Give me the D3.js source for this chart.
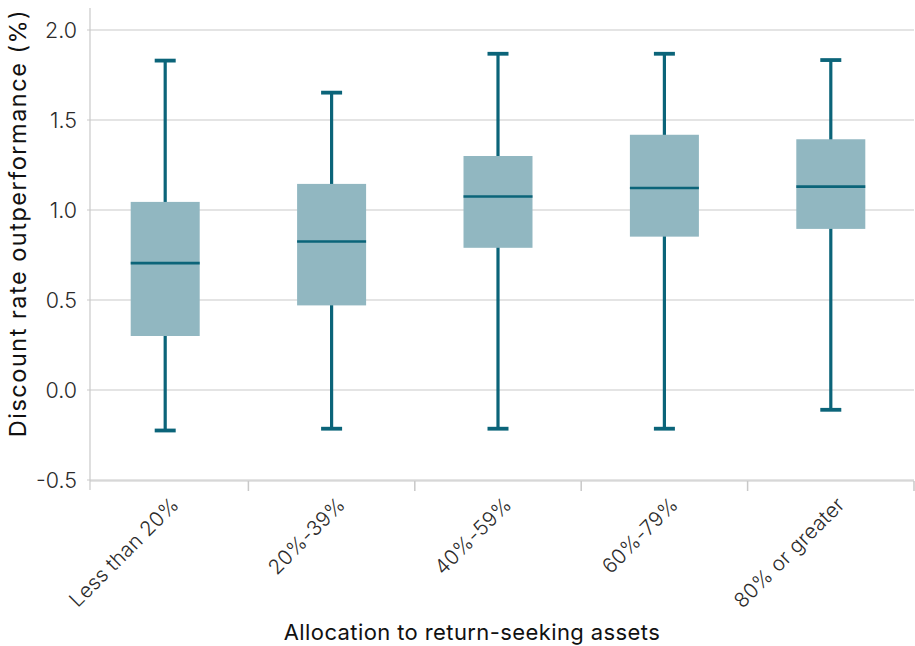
<!DOCTYPE html>
<html>
<head>
<meta charset="utf-8">
<script src="https://cdn.jsdelivr.net/npm/d3@7"></script>
<style>
  html, body { margin: 0; padding: 0; background: #fff; }
  svg { display: block; font-family: Inter, "Open Sans", sans-serif; }
</style>
</head>
<body>
<svg id="chart" width="915" height="646"></svg>
<script>
// Allocation buckets and their box-plot statistics (percent)
const categories = ["Less than 20%", "20%-39%", "40%-59%", "60%-79%", "80% or greater"];
const whiskerLow = [-0.225, -0.215, -0.215, -0.215, -0.11];
const q1 = [0.30, 0.47, 0.79, 0.852, 0.895];
const median = [0.705, 0.825, 1.075, 1.122, 1.13];
const q3 = [1.045, 1.145, 1.30, 1.418, 1.393];
const whiskerHigh = [1.83, 1.652, 1.868, 1.868, 1.833];
const yTicks = [-0.5, 0, 0.5, 1.0, 1.5, 2.0];

const rows = categories.map((c, i) => ({
  cat: c, lo: whiskerLow[i], q1: q1[i], med: median[i], q3: q3[i], hi: whiskerHigh[i]
}));

const svg = d3.select("#chart");
const axisX = 90, bottom = 481, right = 914;
const dark = "#0b6479", fill = "#91b7c1", grid = "#c9c9c9", textCol = "#2b2b2b";

const x = d3.scaleBand().domain(categories).range([82, right]).paddingInner(0).paddingOuter(0);
const y = d3.scaleLinear().domain([-0.5, 2.0]).range([480, 30]);

// horizontal gridlines with short tick stubs
svg.append("g").selectAll("line").data(yTicks).join("line")
  .attr("x1", axisX - 3).attr("x2", right)
  .attr("y1", d => y(d)).attr("y2", d => y(d))
  .attr("stroke", grid).attr("stroke-width", 1.2);

// y tick labels (plain hyphen for negatives)
const fmt = d => d.toFixed(1);
svg.append("g").selectAll("text").data(yTicks).join("text")
  .attr("x", 77).attr("y", d => y(d)).attr("dy", "0.36em")
  .attr("text-anchor", "end").attr("fill", textCol)
  .attr("font-size", 21.5).attr("font-weight", 300)
  .text(fmt);

// axis lines
svg.append("line").attr("x1", axisX).attr("x2", axisX).attr("y1", 8).attr("y2", bottom + 9)
  .attr("stroke", grid).attr("stroke-width", 1.2);
svg.append("line").attr("x1", axisX).attr("x2", right).attr("y1", bottom).attr("y2", bottom)
  .attr("stroke", grid).attr("stroke-width", 1.2);

// x ticks at category boundaries
const bounds = categories.slice(1).map(c => x(c)).concat([x(categories[4]) + x.bandwidth()]);
svg.append("g").selectAll("line").data(bounds).join("line")
  .attr("x1", d => d).attr("x2", d => d).attr("y1", bottom).attr("y2", bottom + 10)
  .attr("stroke", grid).attr("stroke-width", 1.5);

// boxes
const boxW = 69, capW = 21;
const g = svg.append("g").selectAll("g").data(rows).join("g")
  .attr("transform", d => `translate(${x(d.cat) + x.bandwidth() / 2},0)`);

g.append("line").attr("x1", 0).attr("x2", 0)
  .attr("y1", d => y(d.hi)).attr("y2", d => y(d.lo))
  .attr("stroke", dark).attr("stroke-width", 3.2);
g.append("rect").attr("x", -boxW / 2).attr("width", boxW)
  .attr("y", d => y(d.q3)).attr("height", d => y(d.q1) - y(d.q3))
  .attr("fill", fill);
g.append("line").attr("x1", -boxW / 2).attr("x2", boxW / 2)
  .attr("y1", d => y(d.med)).attr("y2", d => y(d.med))
  .attr("stroke", dark).attr("stroke-width", 2.6);
g.selectAll(".cap").data(d => [d.hi, d.lo]).join("line").attr("class", "cap")
  .attr("x1", -capW / 2).attr("x2", capW / 2)
  .attr("y1", v => y(v)).attr("y2", v => y(v))
  .attr("stroke", dark).attr("stroke-width", 3.8);

// rotated category labels
svg.append("g").selectAll("text").data(categories).join("text")
  .attr("transform", d => `translate(${x(d) + x.bandwidth() / 2 + 15},${bottom + 25}) rotate(-45)`)
  .attr("text-anchor", "end").attr("fill", textCol)
  .attr("font-size", 20.5).attr("font-weight", 300).attr("letter-spacing", 0.2)
  .text(d => d);

// axis titles
svg.append("text").attr("x", 472).attr("y", 640)
  .attr("text-anchor", "middle").attr("fill", "#111").attr("font-size", 22)
  .attr("letter-spacing", 0.4)
  .text("Allocation to return-seeking assets");
svg.append("text").attr("transform", "translate(26,223) rotate(-90)")
  .attr("text-anchor", "middle").attr("fill", "#111").attr("font-size", 23.5)
  .attr("letter-spacing", 1.5)
  .text("Discount rate outperformance (%)");
</script>
</body>
</html>
